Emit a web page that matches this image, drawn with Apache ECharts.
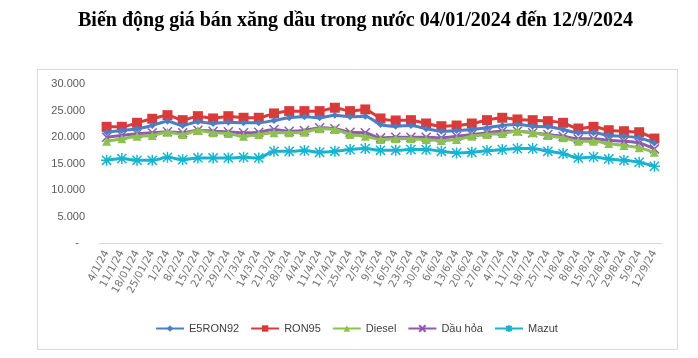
<!DOCTYPE html>
<html><head><meta charset="utf-8">
<script src="https://cdn.jsdelivr.net/npm/echarts@6/dist/echarts.min.js"></script>
<style>html,body{margin:0;padding:0;background:#fff}#c{width:698px;height:358px}</style>
</head><body><div id="c"></div>
<script>
const titleText = 'Biến động giá bán xăng dầu trong nước 04/01/2024 đến 12/9/2024';
const categories = ['4/1/24','11/1/24','18/01/24','25/01/24','1/2/24','8/2/24','15/2/24','22/2/24','29/2/24','7/3/24','14/3/24','21/3/24','28/3/24','4/4/24','11/4/24','17/4/24','25/4/24','2/5/24','9/5/24','16/5/24','23/5/24','30/5/24','6/6/24','13/6/24','20/6/24','27/6/24','4/7/24','11/7/24','18/7/24','25/7/24','1/8/24','8/8/24','15/8/24','22/8/24','29/8/24','5/9/24','12/9/24'];
const seriesNames = ['E5RON92','RON95','Diesel','Dầu hỏa','Mazut'];
const e5ron92 = [20900,21220,21550,22170,22990,22170,22870,22550,22800,22680,22680,23120,23630,23820,23630,24120,23820,23930,22360,22040,22170,21550,21090,21220,21410,21740,22170,22360,22040,21920,21410,20790,20790,20280,20140,19840,18890];
const ron95 = [21920,21920,22680,23440,24120,23180,23930,23500,23930,23630,23630,24450,24880,24880,24880,25520,24880,25200,23500,23120,23180,22550,22040,22170,22550,23180,23630,23310,23180,22990,22680,21600,21920,21280,21090,20900,19710];
const diesel = [19200,19650,20140,20280,20900,20470,21220,20790,20660,20140,20470,20790,20790,20900,21550,21410,20470,20140,19520,19650,19650,19520,19330,19520,20140,20470,20660,21090,20790,20280,19840,19200,19200,18760,18380,17950,17110];
const dauHoa = [19950,20280,20600,20790,20980,20790,21280,21090,20980,20790,20900,21410,21090,21220,21740,21550,20900,20790,19840,19950,19950,19950,19840,20140,20470,20790,21090,21090,20790,20470,20140,19650,19650,19390,19200,18890,17760];
const mazut = [15600,15920,15600,15600,16160,15730,16050,16050,16050,16160,16050,17300,17300,17430,17110,17300,17620,17810,17490,17490,17620,17620,17300,17000,17110,17430,17620,17810,17810,17300,16870,16050,16240,15860,15600,15220,14460];
const yTicks = [0,5000,10000,15000,20000,25000,30000];

const colors = ['#4A7EC7','#D93B3B','#8CC152','#8E5BB0','#17B3D1'];
const symbols = ['diamond','rect','triangle','path://M0,0L10,10M10,0L0,10','path://M0,0L10,10M10,0L0,10M5,-1L5,11M-1,5L11,5'];
const sizes = [7,10,9,9,11];
const datas = [e5ron92, ron95, diesel, dauHoa, mazut];

const chart = echarts.init(document.getElementById('c'), null, {renderer:'canvas'});
const series = seriesNames.map((n,i)=>{
  const stroked = i>=3;
  return {
    name:n, type:'line', data:datas[i], smooth:0.25,
    symbol:symbols[i], symbolSize:sizes[i], showAllSymbol:true,
    lineStyle:{color:colors[i], width:3},
    itemStyle: stroked ? {color:'rgba(0,0,0,0)', borderColor:colors[i], borderWidth:1.5} : {color:colors[i], borderWidth:0},
    emphasis:{disabled:true}, z: 10-i
  };
});
chart.setOption({
  animation:false,
  backgroundColor:'#fff',
  title:{text:titleText, left:73, top:6, textStyle:{fontFamily:'Liberation Serif', fontWeight:'bold', fontSize:20, color:'#000'}},
  graphic:[{type:'rect', shape:{x:37.5,y:69.5,width:640,height:280}, style:{fill:'none', stroke:'#D9D9D9', lineWidth:1}, z:-1}],
  grid:{left:99, right:36, top:84, bottom:115},
  legend:{top:318, left:150, itemWidth:28, itemHeight:8, itemGap:11,
    textStyle:{fontFamily:'Liberation Sans', fontSize:11, color:'#404040'},
    data:seriesNames.map((n,i)=>({name:n}))},
  xAxis:{type:'category', data:categories, boundaryGap:true,
    axisLine:{lineStyle:{color:'#D9D9D9', width:1}}, axisTick:{show:false},
    axisLabel:{interval:0, rotate:62, fontFamily:'DejaVu Sans', fontSize:10.5, color:'#767676', margin:8}},
  yAxis:{type:'value', min:0, max:30000, interval:5000, splitLine:{show:false},
    axisLine:{show:false}, axisTick:{show:false},
    axisLabel:{fontFamily:'Liberation Sans', fontSize:11, color:'#595959', margin:14,
      formatter:v=> v===0 ? '{d|-}' : (v/1000).toFixed(3),
      rich:{d:{fontFamily:'Liberation Sans', fontSize:11, color:'#595959', padding:[0,6,0,0]}}}},
  series:series
});
</script></body></html>
